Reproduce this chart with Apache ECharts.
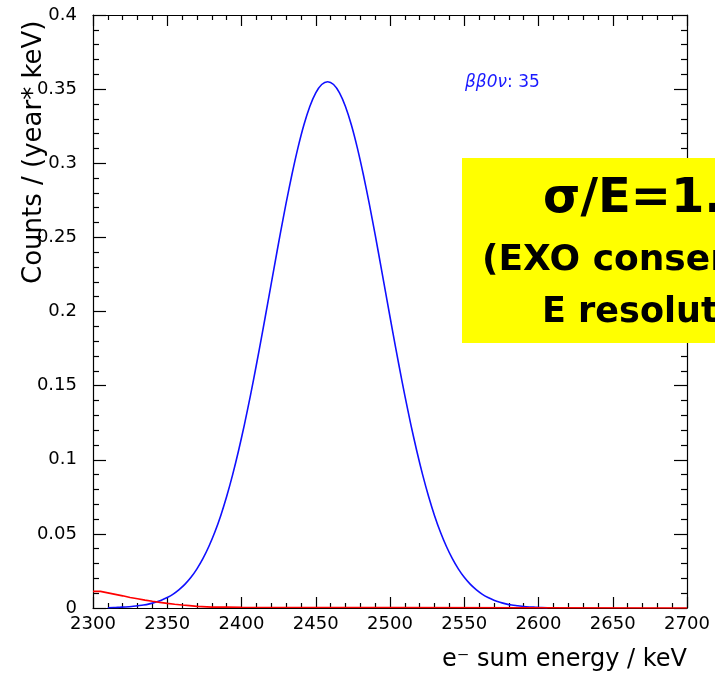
<!DOCTYPE html>
<html>
<head>
<meta charset="utf-8">
<script src="https://cdn.jsdelivr.net/npm/echarts@6/dist/echarts.min.js"></script>
<style>
html,body{margin:0;padding:0;background:#fff;}
#chart{width:715px;height:675px;}
</style>
</head>
<body>
<div id="chart"></div>
<script>
// ---- data ----
const xTicks = [2300, 2350, 2400, 2450, 2500, 2550, 2600, 2650, 2700];
const yTicks = [0, 0.05, 0.1, 0.15, 0.2, 0.25, 0.3, 0.35, 0.4];

// blue: 0vbb peak (counts / (year keV)) at bin centres
const blueEnergy = [2310,2314,2318,2322,2326,2330,2334,2338,2342,2346,2350,2354,2358,2362,2366,2370,2374,2378,2382,2386,2390,2394,2398,2402,2406,2410,2414,2418,2422,2426,2430,2434,2438,2442,2446,2450,2454,2458,2462,2466,2470,2474,2478,2482,2486,2490,2494,2498,2502,2506,2510,2514,2518,2522,2526,2530,2534,2538,2542,2546,2550,2554,2558,2562,2566,2570,2574,2578,2582,2586,2590,2594,2598,2602,2606];
const blueCounts = [0.0002,0.0003,0.0005,0.0007,0.0010,0.0015,0.0020,0.0028,0.0039,0.0053,0.0071,0.0094,0.0124,0.0161,0.0207,0.0264,0.0333,0.0415,0.0511,0.0623,0.0752,0.0898,0.1061,0.1239,0.1433,0.1639,0.1854,0.2075,0.2298,0.2518,0.2729,0.2926,0.3104,0.3258,0.3383,0.3475,0.3531,0.3550,0.3531,0.3475,0.3383,0.3258,0.3104,0.2926,0.2729,0.2518,0.2298,0.2075,0.1854,0.1639,0.1433,0.1239,0.1061,0.0898,0.0752,0.0623,0.0511,0.0415,0.0333,0.0264,0.0207,0.0161,0.0124,0.0094,0.0071,0.0053,0.0039,0.0028,0.0020,0.0015,0.0010,0.0007,0.0005,0.0003,0.0002];

// red: 2vbb tail, histogram bin left edges
const redEnergy = [2300,2305,2310,2315,2320,2325,2330,2335,2340,2345,2350,2355,2360,2365,2370,2380,2390,2400,2700];
const redCounts = [0.0112,0.0102,0.0092,0.0082,0.0071,0.0062,0.0053,0.0045,0.0038,0.0031,0.0025,0.0020,0.0016,0.0011,0.0006,0.0006,0.0005,0,0];

const peakName = 'ββ0ν';
const peakValue = ': 35';
const boxLines = ['σ/E=1.', '(EXO conservative', 'E resolution)'];
const yTitle = 'Counts / (year* keV)';
const xTitle = 'e⁻ sum energy / keV';

const chart = echarts.init(document.getElementById('chart'), null, {renderer: 'canvas'});
const FONT = '"DejaVu Sans", "Liberation Sans", sans-serif';
const labelFont = {fontFamily: FONT, fontSize: 18, color: '#000'};

function axisCommon(majorLen, minorLen) {
  return {
    axisLine: {show: true, onZero: false, lineStyle: {color: '#000', width: 1.2}},
    axisTick: {show: true, inside: true, length: majorLen, lineStyle: {color: '#000', width: 1.2}},
    minorTick: {show: true, splitNumber: 5, length: minorLen, lineStyle: {color: '#000', width: 1.2}},
    splitLine: {show: false},
    minorSplitLine: {show: false}
  };
}

const option = {
  backgroundColor: '#fff',
  animation: false,
  grid: {left: 93, right: 28, top: 15, bottom: 67, containLabel: false},
  xAxis: [
    Object.assign({
      type: 'value', position: 'bottom', min: xTicks[0], max: xTicks[xTicks.length-1], interval: 50,
      axisLabel: Object.assign({show: true, margin: 7, formatter: v => String(v)}, labelFont)
    }, axisCommon(11, 5)),
    Object.assign({
      type: 'value', position: 'top', min: xTicks[0], max: xTicks[xTicks.length-1], interval: 50,
      axisLabel: {show: false}
    }, axisCommon(11, 5))
  ],
  yAxis: [
    Object.assign({
      type: 'value', position: 'left', min: yTicks[0], max: yTicks[yTicks.length-1], interval: 0.05,
      axisLabel: Object.assign({show: true, margin: 16,
        formatter: v => v === 0 ? '0' : String(+v.toFixed(2))}, labelFont)
    }, axisCommon(13, 6)),
    Object.assign({
      type: 'value', position: 'right', min: yTicks[0], max: yTicks[yTicks.length-1], interval: 0.05,
      axisLabel: {show: false}
    }, axisCommon(13, 6))
  ],
  series: [
    {
      type: 'line', name: 'bb0v', xAxisIndex: 0, yAxisIndex: 0,
      data: blueEnergy.map((e, i) => [e, blueCounts[i]]),
      showSymbol: false, symbol: 'none', smooth: 0.3,
      lineStyle: {color: '#1010ff', width: 1.6}, z: 3
    },
    {
      type: 'line', name: 'bb2v', xAxisIndex: 0, yAxisIndex: 0,
      data: redEnergy.map((e, i) => [e, redCounts[i]]),
      showSymbol: false, symbol: 'none', step: 'end',
      lineStyle: {color: '#ff0000', width: 1.6}, z: 4
    }
  ],
  graphic: [
    {
      type: 'text', x: 465, y: 83, z: 10,
      style: {
        text: '{i|' + peakName + '}{n|' + peakValue + '}',
        textVerticalAlign: 'middle',
        rich: {
          i: {fill: '#1a1aff', font: 'italic 17px ' + FONT},
          n: {fill: '#1a1aff', font: '17px ' + FONT}
        }
      }
    },
    {
      type: 'rect', shape: {x: 462, y: 158, width: 270, height: 185}, z: 10,
      style: {fill: '#ffff00'}
    },
    {
      type: 'text', x: 543, y: 200, z: 11,
      style: {text: boxLines[0], fill: '#000', textAlign: 'left', textVerticalAlign: 'middle',
        font: 'bold 48px ' + FONT}
    },
    {
      type: 'text', x: 482, y: 261, z: 11,
      style: {text: boxLines[1], fill: '#000', textAlign: 'left', textVerticalAlign: 'middle',
        font: 'bold 36px ' + FONT}
    },
    {
      type: 'text', x: 542, y: 313, z: 11,
      style: {text: boxLines[2], fill: '#000', textAlign: 'left', textVerticalAlign: 'middle',
        font: 'bold 35px ' + FONT}
    },
    {
      type: 'text', x: 34, y: 284, rotation: Math.PI / 2, z: 10,
      style: {text: yTitle, fill: '#000', textAlign: 'left', textVerticalAlign: 'middle',
        font: '26px ' + FONT}
    },
    {
      type: 'text', x: 687, y: 660, z: 10,
      style: {text: xTitle, fill: '#000', textAlign: 'right', textVerticalAlign: 'middle',
        font: '24px ' + FONT}
    }
  ]
};
chart.setOption(option);
</script>
</body>
</html>
